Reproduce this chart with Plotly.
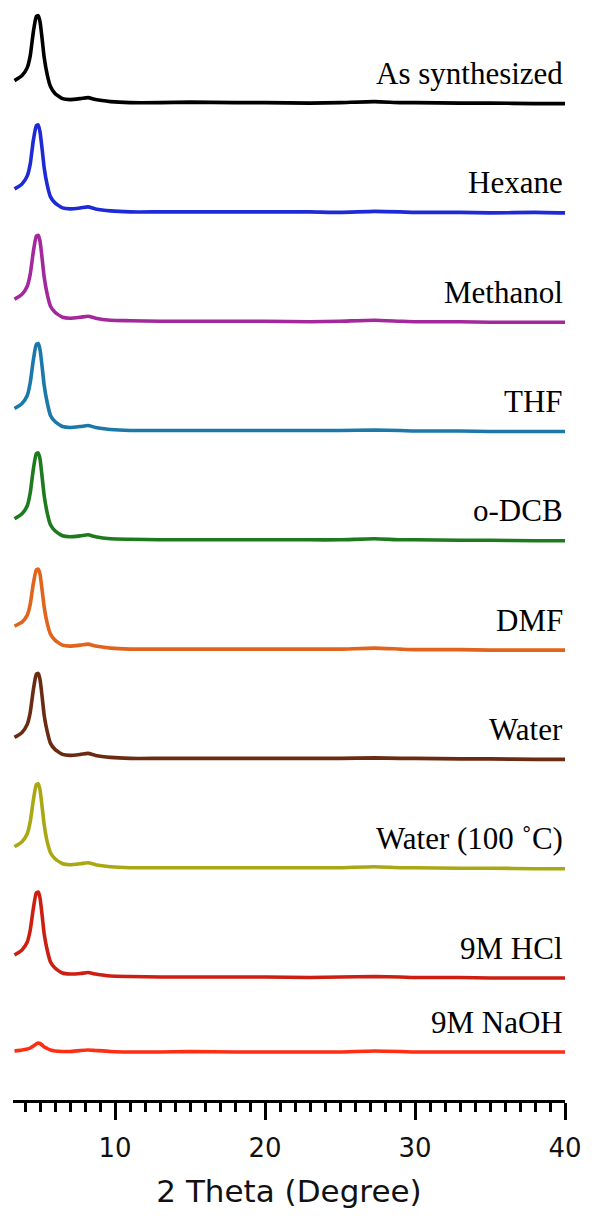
import plotly.graph_objects as go

# 2-theta sampling grid (degrees)
two_theta = [3.3, 3.8, 4.15, 4.35, 4.55, 4.75, 4.88, 5.0, 5.14, 5.28, 5.48, 5.7,
             6.0, 6.5, 7.0, 7.7, 8.2, 8.7, 9.7, 11, 13, 15, 18, 20, 23, 25,
             27.3, 29, 30, 33, 35, 38, 40]

sample_names = ["As synthesized", "Hexane", "Methanol", "THF", "o-DCB", "DMF",
                "Water", "Water (100 \u02daC)", "9M HCl", "9M NaOH"]

# intensities (arbitrary units, baseline = 0)
as_synthesized = [23, 28, 36, 48, 71, 87, 88, 82, 65, 46, 29, 17, 10, 5, 4, 5, 6, 4, 2, 1, 1, 1.5, 1, 1, 0.5, 1, 2, 1, 1, 0.5, 0.5, 0, 0]
hexane =         [24, 29, 37, 49, 72, 87, 88, 81, 64, 45, 28, 16, 10, 5, 4, 5, 6, 4, 2, 1, 1, 1, 1, 1, 1, 0.5, 1.5, 1, 0.5, 0.5, 0, 0.5, 0]
methanol =       [23, 28, 36, 48, 70, 86, 87, 81, 64, 45, 28, 16, 10, 5, 4, 5, 6, 4, 2, 1.5, 1, 1, 1, 1, 0.5, 1, 2, 1, 0.5, 0.5, 0, 0, 0]
thf =            [23, 28, 36, 49, 71, 87, 88, 82, 65, 46, 29, 16, 10, 5, 4, 5, 6, 4, 2, 1, 1, 1, 1, 1, 1, 1, 1.5, 1, 0.5, 0.5, 0, 0, 0]
o_dcb =          [22, 27, 35, 48, 71, 87, 88, 82, 64, 45, 28, 16, 10, 5, 4, 5, 6, 4, 2, 1.5, 1, 1, 1, 1, 1, 1, 2, 1, 1, 0.5, 0.5, 0, 0]
dmf =            [24, 28, 35, 46, 66, 80, 81, 76, 60, 43, 27, 16, 10, 5, 4, 5, 6, 4, 2, 1, 1, 1, 1, 1, 1, 1, 2, 1, 0.5, 0.5, 0, 0, 0]
water =          [22, 27, 35, 47, 69, 85, 86, 80, 63, 44, 28, 16, 10, 5, 4, 5, 6, 4, 2, 1, 1, 1, 1, 1, 1, 1, 1.5, 1, 1, 0.5, 0.5, 0, 0]
water_100c =     [22, 27, 35, 47, 68, 84, 85, 79, 62, 44, 27, 16, 10, 5, 4, 5, 6, 4, 2, 1, 1, 1, 1, 1, 1, 1, 2, 1, 1, 0.5, 0.5, 0, 0]
hcl_9m =         [23, 28, 36, 48, 69, 85, 86, 80, 63, 44, 28, 16, 10, 5, 4, 4.5, 5.5, 4, 2, 1.5, 1, 1, 1, 1, 0.5, 1, 1.5, 1, 0.5, 0.5, 0, 0, 0]
naoh_9m =        [1, 2, 3, 4, 6, 8, 9, 8.5, 7, 5, 3.5, 2, 1, 0.5, 0.5, 1.5, 2, 1.5, 0.5, 0, 0, 0.5, 0, 0, 0, 0, 1, 0.5, 0, 0, 0, 0, 0]

series = [as_synthesized, hexane, methanol, thf, o_dcb, dmf, water,
          water_100c, hcl_9m, naoh_9m]

colors = ["#000000", "#1e2ad6", "#a3289b", "#1b78a8", "#1d7a1d", "#e2631c",
          "#6b2b12", "#a9a814", "#cc1f12", "#ff2d14"]

# vertical stacking (layout only)
gap = 109.3
offsets = [122 + gap * (8 - i) for i in range(9)] + [48]

fig = go.Figure()
for name, ys, c, off in zip(sample_names, series, colors, offsets):
    fig.add_trace(go.Scatter(
        x=two_theta, y=[v + off for v in ys], mode="lines", name=name,
        line=dict(color=c, width=3.6, shape="spline", smoothing=0.5),
        showlegend=False, hoverinfo="skip"))
    fig.add_annotation(x=40, y=off + 30, xref="x", yref="y", text=name,
                       showarrow=False, xanchor="right", yanchor="middle",
                       font=dict(family="Liberation Serif", size=31, color="#000"))

fig.update_layout(
    width=584, height=1210,
    margin=dict(l=5, r=27, t=2, b=118),
    plot_bgcolor="white", paper_bgcolor="white",
    xaxis=dict(
        range=[3.2, 40], showgrid=False, zeroline=False,
        showline=True, linecolor="black", linewidth=3,
        ticks="outside", tick0=0, dtick=10, ticklen=17, tickwidth=2.5, tickcolor="black",
        minor=dict(dtick=1, tick0=0, ticks="outside", ticklen=9, tickwidth=2.5, tickcolor="black"),
        tickfont=dict(family="DejaVu Sans", size=26, color="#111"),
        ticklabelstandoff=6,
        title=dict(text="2 Theta (Degree)", font=dict(family="DejaVu Sans", size=31, color="#111"), standoff=19),
    ),
    yaxis=dict(range=[0, 1090], visible=False),
)

fig.write_html("out.html")
